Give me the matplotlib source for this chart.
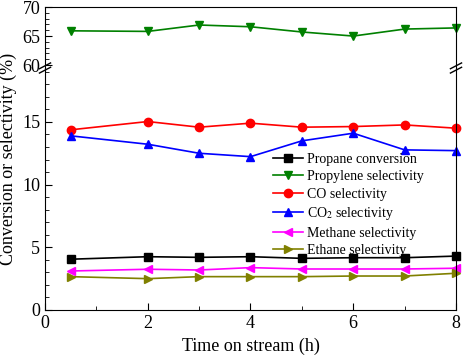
import matplotlib
matplotlib.use('Agg')
import matplotlib.pyplot as plt
from matplotlib.ticker import MultipleLocator

plt.rcParams['font.family'] = ['Liberation Serif', 'DejaVu Serif']
plt.rcParams['mathtext.fontset'] = 'stix'

timeOnStream = [0.5, 2, 3, 4, 5, 6, 7, 8]
propaneConversion = [4.05, 4.25, 4.2, 4.25, 4.12, 4.17, 4.17, 4.3]
propyleneSelectivity = [65.9, 65.8, 66.9, 66.6, 65.7, 65.0, 66.2, 66.4]
coSelectivity = [14.37, 15.03, 14.58, 14.9, 14.58, 14.63, 14.76, 14.5]
co2Selectivity = [13.89, 13.22, 12.5, 12.23, 13.49, 14.1, 12.77, 12.71]
methaneSelectivity = [3.11, 3.25, 3.19, 3.38, 3.27, 3.27, 3.27, 3.33]
ethaneSelectivity = [2.66, 2.5, 2.66, 2.66, 2.66, 2.71, 2.71, 2.93]

# name, values, colour, marker, on upper panel?
seriesList = [
    ('Propane conversion', propaneConversion, 'black', 's', False),
    ('Propylene selectivity', propyleneSelectivity, '#008000', 'v', True),
    ('CO selectivity', coSelectivity, 'red', 'o', False),
    ('CO$_2$ selectivity', co2Selectivity, 'blue', '^', False),
    ('Methane selectivity', methaneSelectivity, 'magenta', '<', False),
    ('Ethane selectivity', ethaneSelectivity, '#808000', '>', False),
]

fig = plt.figure(figsize=(4.64, 3.61), dpi=100)
left, right = 45 / 464, 456 / 464
yTop, yBreak, yBottom = 7, 68, 310
axTop = fig.add_axes([left, 1 - yBreak / 361, right - left, (yBreak - yTop) / 361])
axBot = fig.add_axes([left, 1 - yBottom / 361, right - left, (yBottom - yBreak) / 361])

handles = []
for name, values, color, marker, upper in seriesList:
    ax = axTop if upper else axBot
    line, = ax.plot(timeOnStream, values, color=color, marker=marker,
                    markersize=6, linewidth=1.2, label=name, clip_on=False)
    handles.append(line)

axTop.set_ylim(59.5, 70)
axBot.set_ylim(0, 19.3)
for ax in (axTop, axBot):
    ax.set_xlim(0, 8)
    ax.xaxis.set_major_locator(MultipleLocator(2))
    ax.xaxis.set_minor_locator(MultipleLocator(1))
    ax.yaxis.set_major_locator(MultipleLocator(5))
    ax.yaxis.set_minor_locator(MultipleLocator(1))
    ax.tick_params(which='both', direction='in', top=False, right=False, labelsize=13)
    ax.tick_params(which='major', length=5)
    ax.tick_params(which='minor', length=3)

axTop.spines['bottom'].set_visible(False)
axTop.tick_params(axis='x', which='both', bottom=False, labelbottom=False)
axBot.spines['top'].set_visible(False)
axTop.set_yticks([60, 65, 70])

# break marks on both side spines
for xPos in (0, 1):
    for dy in (-0.006, 0.006):
        fig.lines.append(plt.Line2D(
            [left + xPos * (right - left) - 0.012, left + xPos * (right - left) + 0.012],
            [1 - yBreak / 361 + dy - 0.008, 1 - yBreak / 361 + dy + 0.008],
            color='black', linewidth=1.0, transform=fig.transFigure))

axBot.set_xlabel('Time on stream (h)', fontsize=13, labelpad=4)
fig.text(0.018, (1 - yBottom / 361 + 1 - yTop / 361) / 2, 'Conversion or selectivity (%)',
         rotation=90, va='center', ha='center', fontsize=13)

axBot.legend(handles=handles, loc='upper left', bbox_to_anchor=(0.53, 0.69),
             frameon=False, fontsize=10, handlelength=2.2, handletextpad=0.3,
             labelspacing=0.32, borderpad=0.2)

fig.savefig('out.png', dpi=100)
